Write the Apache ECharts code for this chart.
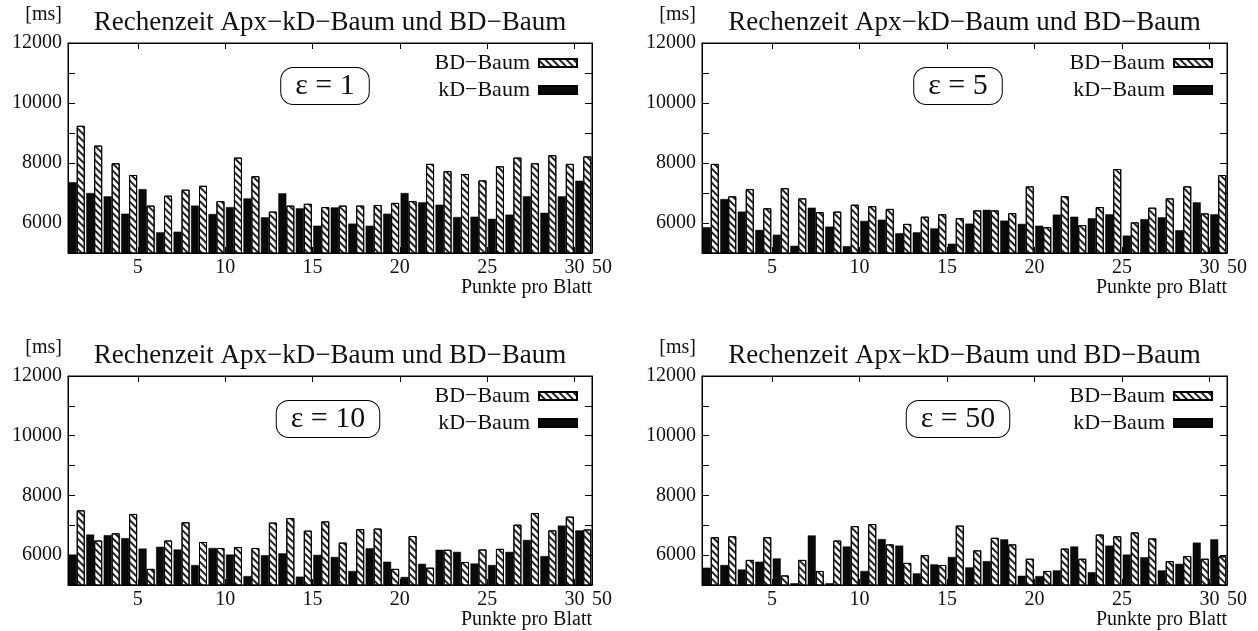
<!DOCTYPE html>
<html>
<head>
<meta charset="utf-8">
<script src="https://cdn.jsdelivr.net/npm/echarts@6/dist/echarts.min.js"></script>
<style>
  html, body { margin: 0; padding: 0; background: #fff; }
  #chart { width: 1258px; height: 631px; }
</style>
</head>
<body>
<div id="chart"></div>
<script>
var categories = ['1','2','3','4','5','6','7','8','9','10','11','12','13','14','15',
                  '16','17','18','19','20','21','22','23','24','25','26','27','28','29','30'];
var tickLabels = categories.concat(['50']);
var yTicks = [6000, 8000, 10000, 12000];

var kdEps1  = [7360, 7000, 6890, 6310, 7130, 5690, 5710, 6580, 6300, 6530, 6820, 6190, 6990, 6490, 5910,
               6520, 5980, 5910, 6310, 7000, 6690, 6610, 6200, 6210, 6140, 6280, 6890, 6340, 6890, 7410];
var bdEps1  = [9240, 8580, 7990, 7600, 6580, 6910, 7110, 7240, 6730, 8180, 7560, 6380, 6580, 6640, 6530,
               6580, 6580, 6600, 6670, 6730, 7970, 7730, 7630, 7420, 7890, 8180, 7990, 8260, 7970, 8220];
var kdEps5  = [5860, 6800, 6380, 5770, 5610, 5240, 6510, 5880, 5230, 6070, 6110, 5660, 5690, 5820, 5310,
               5980, 6440, 6080, 5970, 5910, 6280, 6210, 6160, 6290, 5580, 6130, 6190, 5760, 6690, 6290];
var bdEps5  = [7970, 6890, 7130, 6490, 7160, 6820, 6360, 6380, 6610, 6560, 6470, 5970, 6210, 6290, 6160,
               6420, 6420, 6330, 7220, 5860, 6890, 5930, 6530, 7800, 6020, 6510, 6820, 7220, 6320, 7600];
var kdEps10 = [6020, 6690, 6670, 6570, 6220, 6280, 6190, 5670, 6240, 6020, 5300, 6000, 6060, 5280, 6010,
               5940, 5470, 6230, 5780, 5270, 5710, 6180, 6110, 5720, 5670, 6110, 6510, 5970, 6990, 6830];
var bdEps10 = [7500, 6490, 6730, 7380, 5540, 6490, 7100, 6440, 6240, 6270, 6240, 7090, 7240, 6820, 7130,
               6420, 6870, 6890, 5540, 6640, 5580, 6180, 5770, 6190, 6210, 7020, 7410, 6830, 7290, 6860];
var kdEps50 = [5580, 5670, 5520, 5780, 5890, 5060, 6660, 5060, 6290, 5470, 6540, 6320, 5390, 5690, 5940,
               5590, 5800, 6530, 5310, 5300, 5490, 6290, 5430, 6320, 6020, 5930, 5490, 5710, 6420, 6530];
var bdEps50 = [6600, 6630, 5840, 6600, 5320, 5840, 5470, 6490, 6970, 7040, 6360, 5740, 6000, 5670, 6990,
               6160, 6580, 6360, 5880, 5470, 6220, 5880, 6690, 6630, 6760, 6560, 5800, 5970, 5880, 5960];

var titleText = 'Rechenzeit Apx\u2212kD\u2212Baum und BD\u2212Baum';
var bdName = 'BD\u2212Baum';
var kdName = 'kD\u2212Baum';
var font = 'Liberation Serif';

var panels = [
  {eps: '\u03b5 = 1',  kd: kdEps1,  bd: bdEps1,  left: 68,  top: 43,  width: 524, height: 210, boxX: 325, legendRight: 680},
  {eps: '\u03b5 = 5',  kd: kdEps5,  bd: bdEps5,  left: 702, top: 43,  width: 525, height: 210, boxX: 958, legendRight: 45},
  {eps: '\u03b5 = 10', kd: kdEps10, bd: bdEps10, left: 68,  top: 376, width: 524, height: 209, boxX: 328, legendRight: 680},
  {eps: '\u03b5 = 50', kd: kdEps50, bd: bdEps50, left: 702, top: 376, width: 525, height: 209, boxX: 958, legendRight: 45}
];

var myChart = echarts.init(document.getElementById('chart'));

var grid = [], xAxis = [], yAxis = [], series = [], title = [], legend = [], graphic = [];

function tickAt(index) { return index % 5 === 4; }

panels.forEach(function (p, i) {
    grid.push({left: p.left, top: p.top, width: p.width, height: p.height,
               show: true, borderColor: '#000', borderWidth: 1, backgroundColor: '#fff'});

    title.push({
        text: titleText, left: p.left + p.width / 2, top: p.top - 34, textAlign: 'center', padding: 0,
        textStyle: {fontFamily: font, fontSize: 27, fontWeight: 'normal', color: '#111'}
    });

    // bars
    xAxis.push({gridIndex: i, type: 'category', data: categories, boundaryGap: true, show: false});
    // tick labels at the left edges of groups
    xAxis.push({
        gridIndex: i, type: 'category', data: tickLabels, boundaryGap: false, position: 'bottom',
        axisLine: {lineStyle: {color: '#000'}},
        axisTick: {inside: true, length: 6, interval: tickAt, lineStyle: {color: '#000'}},
        axisLabel: {
            interval: function (idx, v) { return tickAt(idx) || v === '50'; },
            margin: 5, fontFamily: font, fontSize: 20, color: '#111',
            formatter: function (v) { return v === '50' ? '{r|50}' : v; },
            rich: {r: {padding: [0, 0, 0, 20], fontFamily: font, fontSize: 20, color: '#111'}}
        },
        name: 'Punkte pro Blatt', nameLocation: 'end', nameGap: 0,
        nameTextStyle: {fontFamily: font, fontSize: 20, color: '#111', align: 'right',
                        verticalAlign: 'top', padding: [25, 0, 0, 0]}
    });
    xAxis.push({
        gridIndex: i, type: 'category', data: tickLabels, boundaryGap: false, position: 'top',
        axisLine: {lineStyle: {color: '#000'}},
        axisTick: {inside: true, length: 6, interval: tickAt, lineStyle: {color: '#000'}},
        axisLabel: {show: false}
    });

    yAxis.push({
        gridIndex: i, type: 'value', min: 5000, max: 12000, interval: 1000, position: 'left',
        splitLine: {show: false},
        axisLine: {show: true, lineStyle: {color: '#000'}},
        axisTick: {show: true, inside: true, length: 7, lineStyle: {color: '#000'}},
        axisLabel: {
            margin: 6, fontFamily: font, fontSize: 20, color: '#111',
            formatter: function (v) { return yTicks.indexOf(v) >= 0 ? String(v) : ''; }
        },
        name: '[ms]', nameLocation: 'end', nameGap: 18,
        nameTextStyle: {fontFamily: font, fontSize: 20, color: '#111', align: 'right', padding: [0, 6, 0, 0]}
    });
    yAxis.push({
        gridIndex: i, type: 'value', min: 5000, max: 12000, interval: 1000, position: 'right',
        splitLine: {show: false},
        axisLine: {show: true, lineStyle: {color: '#000'}},
        axisTick: {show: true, inside: true, length: 7, lineStyle: {color: '#000'}},
        axisLabel: {show: false}
    });

    series.push({
        name: kdName, type: 'bar', xAxisIndex: i * 3, yAxisIndex: i * 2,
        data: p.kd, barWidth: 8, barGap: '0%',
        itemStyle: {color: '#0a0a0a', borderColor: '#000', borderWidth: 0.5}
    });
    series.push({
        name: bdName, type: 'bar', xAxisIndex: i * 3, yAxisIndex: i * 2,
        data: p.bd, barWidth: 8, barGap: '0%',
        itemStyle: {
            color: '#fff', borderColor: '#000', borderWidth: 1,
            decal: {symbol: 'rect', symbolSize: 1, color: '#222',
                    dashArrayX: [1, 0], dashArrayY: [1.5, 3], rotation: Math.PI / 4}
        }
    });

    legend.push({
        data: [bdName, kdName], orient: 'vertical', right: p.legendRight, top: p.top + 9,
        align: 'right', icon: 'rect', itemWidth: 38, itemHeight: 8, itemGap: 5, padding: 0,
        selectedMode: false,
        textStyle: {fontFamily: font, fontSize: 22, color: '#111', padding: [0, 4, 0, 0]}
    });

    graphic.push({
        type: 'text', x: p.boxX, y: p.top + 43, z: 100,
        style: {
            text: p.eps, font: '30px "Liberation Serif"', fill: '#111',
            align: 'center', verticalAlign: 'middle',
            backgroundColor: '#fff', borderColor: '#000', borderWidth: 1, borderRadius: 12,
            padding: [4, 14, 2, 14]
        }
    });
});

var option = {
    backgroundColor: '#fff',
    animation: false,
    title: title,
    legend: legend,
    grid: grid,
    xAxis: xAxis,
    yAxis: yAxis,
    series: series,
    graphic: graphic
};

myChart.setOption(option);
window.addEventListener('resize', function () {
    myChart.resize();
});
</script>
</body>
</html>
